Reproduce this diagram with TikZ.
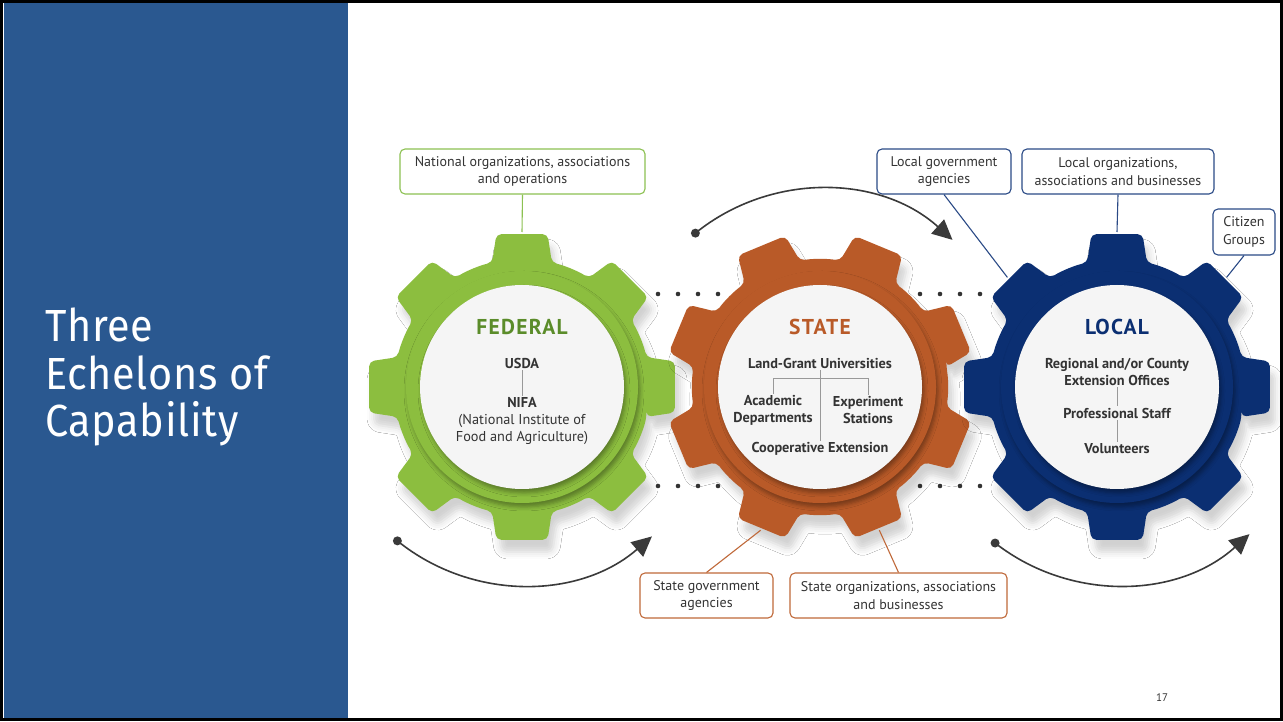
\documentclass[tikz,border=0pt]{standalone}
\usepackage{fontspec}
\setmainfont{PT Sans}
\newfontfamily\titlefont[FakeStretch=0.92, LetterSpace=1.5]{Fira Sans}
\newfontfamily\headfont[LetterSpace=6]{PT Sans}
\usetikzlibrary{calc,arrows.meta,shadows.blur,positioning}

\definecolor{panelblue}{HTML}{2A5890}
\definecolor{fedgreen}{HTML}{8CBE3F}
\definecolor{fedtext}{HTML}{5B8C2A}
\definecolor{stateorange}{HTML}{B95A28}
\definecolor{localnavy}{HTML}{0B2F72}
\definecolor{textgray}{HTML}{333333}
\definecolor{arrowgray}{HTML}{3A3A3A}
\definecolor{fedbord}{HTML}{8CC152}
\definecolor{statebord}{HTML}{C0693A}
\definecolor{localbord}{HTML}{2B4A86}

% gear wheel: #1 name, #2 centre, #3 rotation, #4 colour
\newcommand{\gearwheel}[4]{%
  \coordinate (#1) at (#2);
  \fill[#4, rounded corners=5pt, shift={(#1)}, rotate=#3, gearshadow]
    (-13.5:128) foreach \a in {0,45,...,315} {
      -- (\a-9.5:155) -- (\a+9.5:155) -- (\a+13.5:128)
      arc[start angle=\a+13.5, end angle=\a+31.5, radius=128pt]
    } -- cycle;
  \foreach \a [count=\k] in {0,45,...,315}
    \coordinate (#1-tooth\k) at ($(#1)+(\a+#3:155)$);
  \fill[#4, ringshadow] (#1) circle (116pt);
  \fill[white!96!black, ringshadow] (#1) circle (102pt);
}

\begin{document}
\begin{tikzpicture}[
    x=1pt, y=1pt,
    gearshadow/.style={blur shadow={shadow xshift=5pt, shadow yshift=-12pt,
        shadow blur radius=7pt, shadow opacity=18}},
    ringshadow/.style={blur shadow={shadow xshift=2pt, shadow yshift=-4pt,
        shadow blur radius=4pt, shadow opacity=35}},
    labelbox/.style={draw, fill=white, rounded corners=5pt, line width=1.1pt,
        align=center, text=textgray, font=\fontsize{14}{17.5}\selectfont,
        minimum height=45pt, inner xsep=2pt},
    leadline/.style={line width=1.1pt},
    gearhead/.style={font=\headfont\bfseries\fontsize{21.5}{24}\selectfont},
    geartext/.style={text=textgray, align=center,
        font=\bfseries\fontsize{14.3}{17}\selectfont, inner sep=1.5pt},
    treeline/.style={draw=gray!80, line width=0.8pt},
    cyclearrow/.style={draw=arrowgray, line width=1.6pt,
        -{Triangle[length=20pt, width=19pt]}},
  ]
  \useasboundingbox (0,0) rectangle (1283,721);

  % slide background and title panel
  \fill[white] (0,0) rectangle (1283,721);
  \fill[panelblue] (4,3) rectangle (348,718);
  \node[anchor=base west, align=left, text=white, inner sep=0,
    font=\titlefont\fontsize{45}{47.5}\selectfont] (title) at (45,284)
    {Three\\Echelons of\\Capability};

  % dotted guides between the gears
  \foreach \x in {658,678,698,718,920,940,960,980}
    \foreach \y in {427,235}
      \fill[textgray] (\x,\y) circle (2.3pt);

  % the three gears
  \gearwheel{fed}{522,334}{0}{fedgreen}
  \gearwheel{state}{820,334}{22.5}{stateorange}
  \gearwheel{local}{1117,334}{0}{localnavy}

  % federal gear text
  \node[gearhead, text=fedtext] (fedhead) at ($(fed)+(0,60)$) {FEDERAL};
  \node[geartext] (usda) at ($(fed)+(0,24)$) {USDA};
  \node[geartext] (nifa) at ($(fed)+(0,-34)$)
    {NIFA\\\mdseries(National Institute of\\\mdseries Food and Agriculture)};
  \draw[treeline] (usda) -- (nifa);

  % state gear text
  \node[gearhead, text=stateorange] (statehead) at ($(state)+(0,60)$) {STATE};
  \node[geartext] (lgu) at ($(state)+(0,24)$) {Land-Grant Universities};
  \node[geartext] (acad) at ($(state)+(-47,-23.5)$) {Academic\\Departments};
  \node[geartext] (exper) at ($(state)+(48,-23.5)$) {Experiment\\Stations};
  \node[geartext] (coop) at ($(state)+(0,-62)$) {Cooperative Extension};
  \coordinate (stbar) at ($(lgu.south)+(0,-8)$);
  \draw[treeline] (lgu.south) -- (coop.north);
  \draw[treeline] (acad.north) |- (stbar) -| (exper.north);

  % local gear text
  \node[gearhead, text=localnavy] (localhead) at ($(local)+(0,60)$) {LOCAL};
  \node[geartext] (region) at ($(local)+(0,15.5)$)
    {Regional and/or County\\Extension Offices};
  \node[geartext] (staff) at ($(local)+(0,-26)$) {Professional Staff};
  \node[geartext] (volun) at ($(local)+(0,-62)$) {Volunteers};
  \draw[treeline] (region) -- (staff);
  \draw[treeline] (staff) -- (volun);

  % label boxes
  \node[labelbox, draw=fedbord, minimum width=245pt] (fedbox) at (522.5,549.5)
    {National organizations, associations\\and operations};
  \node[labelbox, draw=statebord, minimum width=133pt] (stgov) at (706.5,125.5)
    {State government\\agencies};
  \node[labelbox, draw=statebord, minimum width=217pt] (storg) at (898.5,125.5)
    {State organizations, associations\\and businesses};
  \node[labelbox, draw=localbord, minimum width=134pt] (locgov) at (944,549.5)
    {Local government\\agencies};
  \node[labelbox, draw=localbord, minimum width=192pt] (locorg) at (1118,549.5)
    {Local organizations,\\associations and businesses};
  \node[labelbox, draw=localbord, minimum width=62pt, minimum height=46pt]
    (citizen) at (1244,489) {Citizen\\Groups};

  % lead lines from boxes to teeth
  \draw[leadline, fedbord] (fedbox.south) -- (fed-tooth3);
  \draw[leadline, statebord] (stgov.north) -- (state-tooth6);
  \draw[leadline, statebord] (storg.north) -- (state-tooth7);
  \draw[leadline, localbord] (locgov.south) -- (local-tooth4);
  \draw[leadline, localbord] (locorg.south) -- (local-tooth3);
  \draw[leadline, localbord] (citizen.south) -- (local-tooth2);

  % turning arrows
  \coordinate (fedturn) at ($(fed)+(231:198)$);
  \coordinate (stateturn) at ($(state)+(129:198)$);
  \coordinate (localturn) at ($(local)+(232:198)$);
  \draw[cyclearrow] (fedturn) arc[start angle=231, end angle=311, radius=198pt];
  \draw[cyclearrow] (stateturn) arc[start angle=129, end angle=48, radius=198pt];
  \draw[cyclearrow] (localturn) arc[start angle=232, end angle=312, radius=198pt];
  \foreach \p in {fedturn,stateturn,localturn}
    \fill[arrowgray] (\p) circle (4.5pt);

  % page number and frame
  \node[text=textgray, font=\fontsize{11}{13}\selectfont] (pagenum) at (1162,23) {17};
  \draw[black, line width=3pt] (1.5,1.5) rectangle (1281.5,719.5);
\end{tikzpicture}
\end{document}
